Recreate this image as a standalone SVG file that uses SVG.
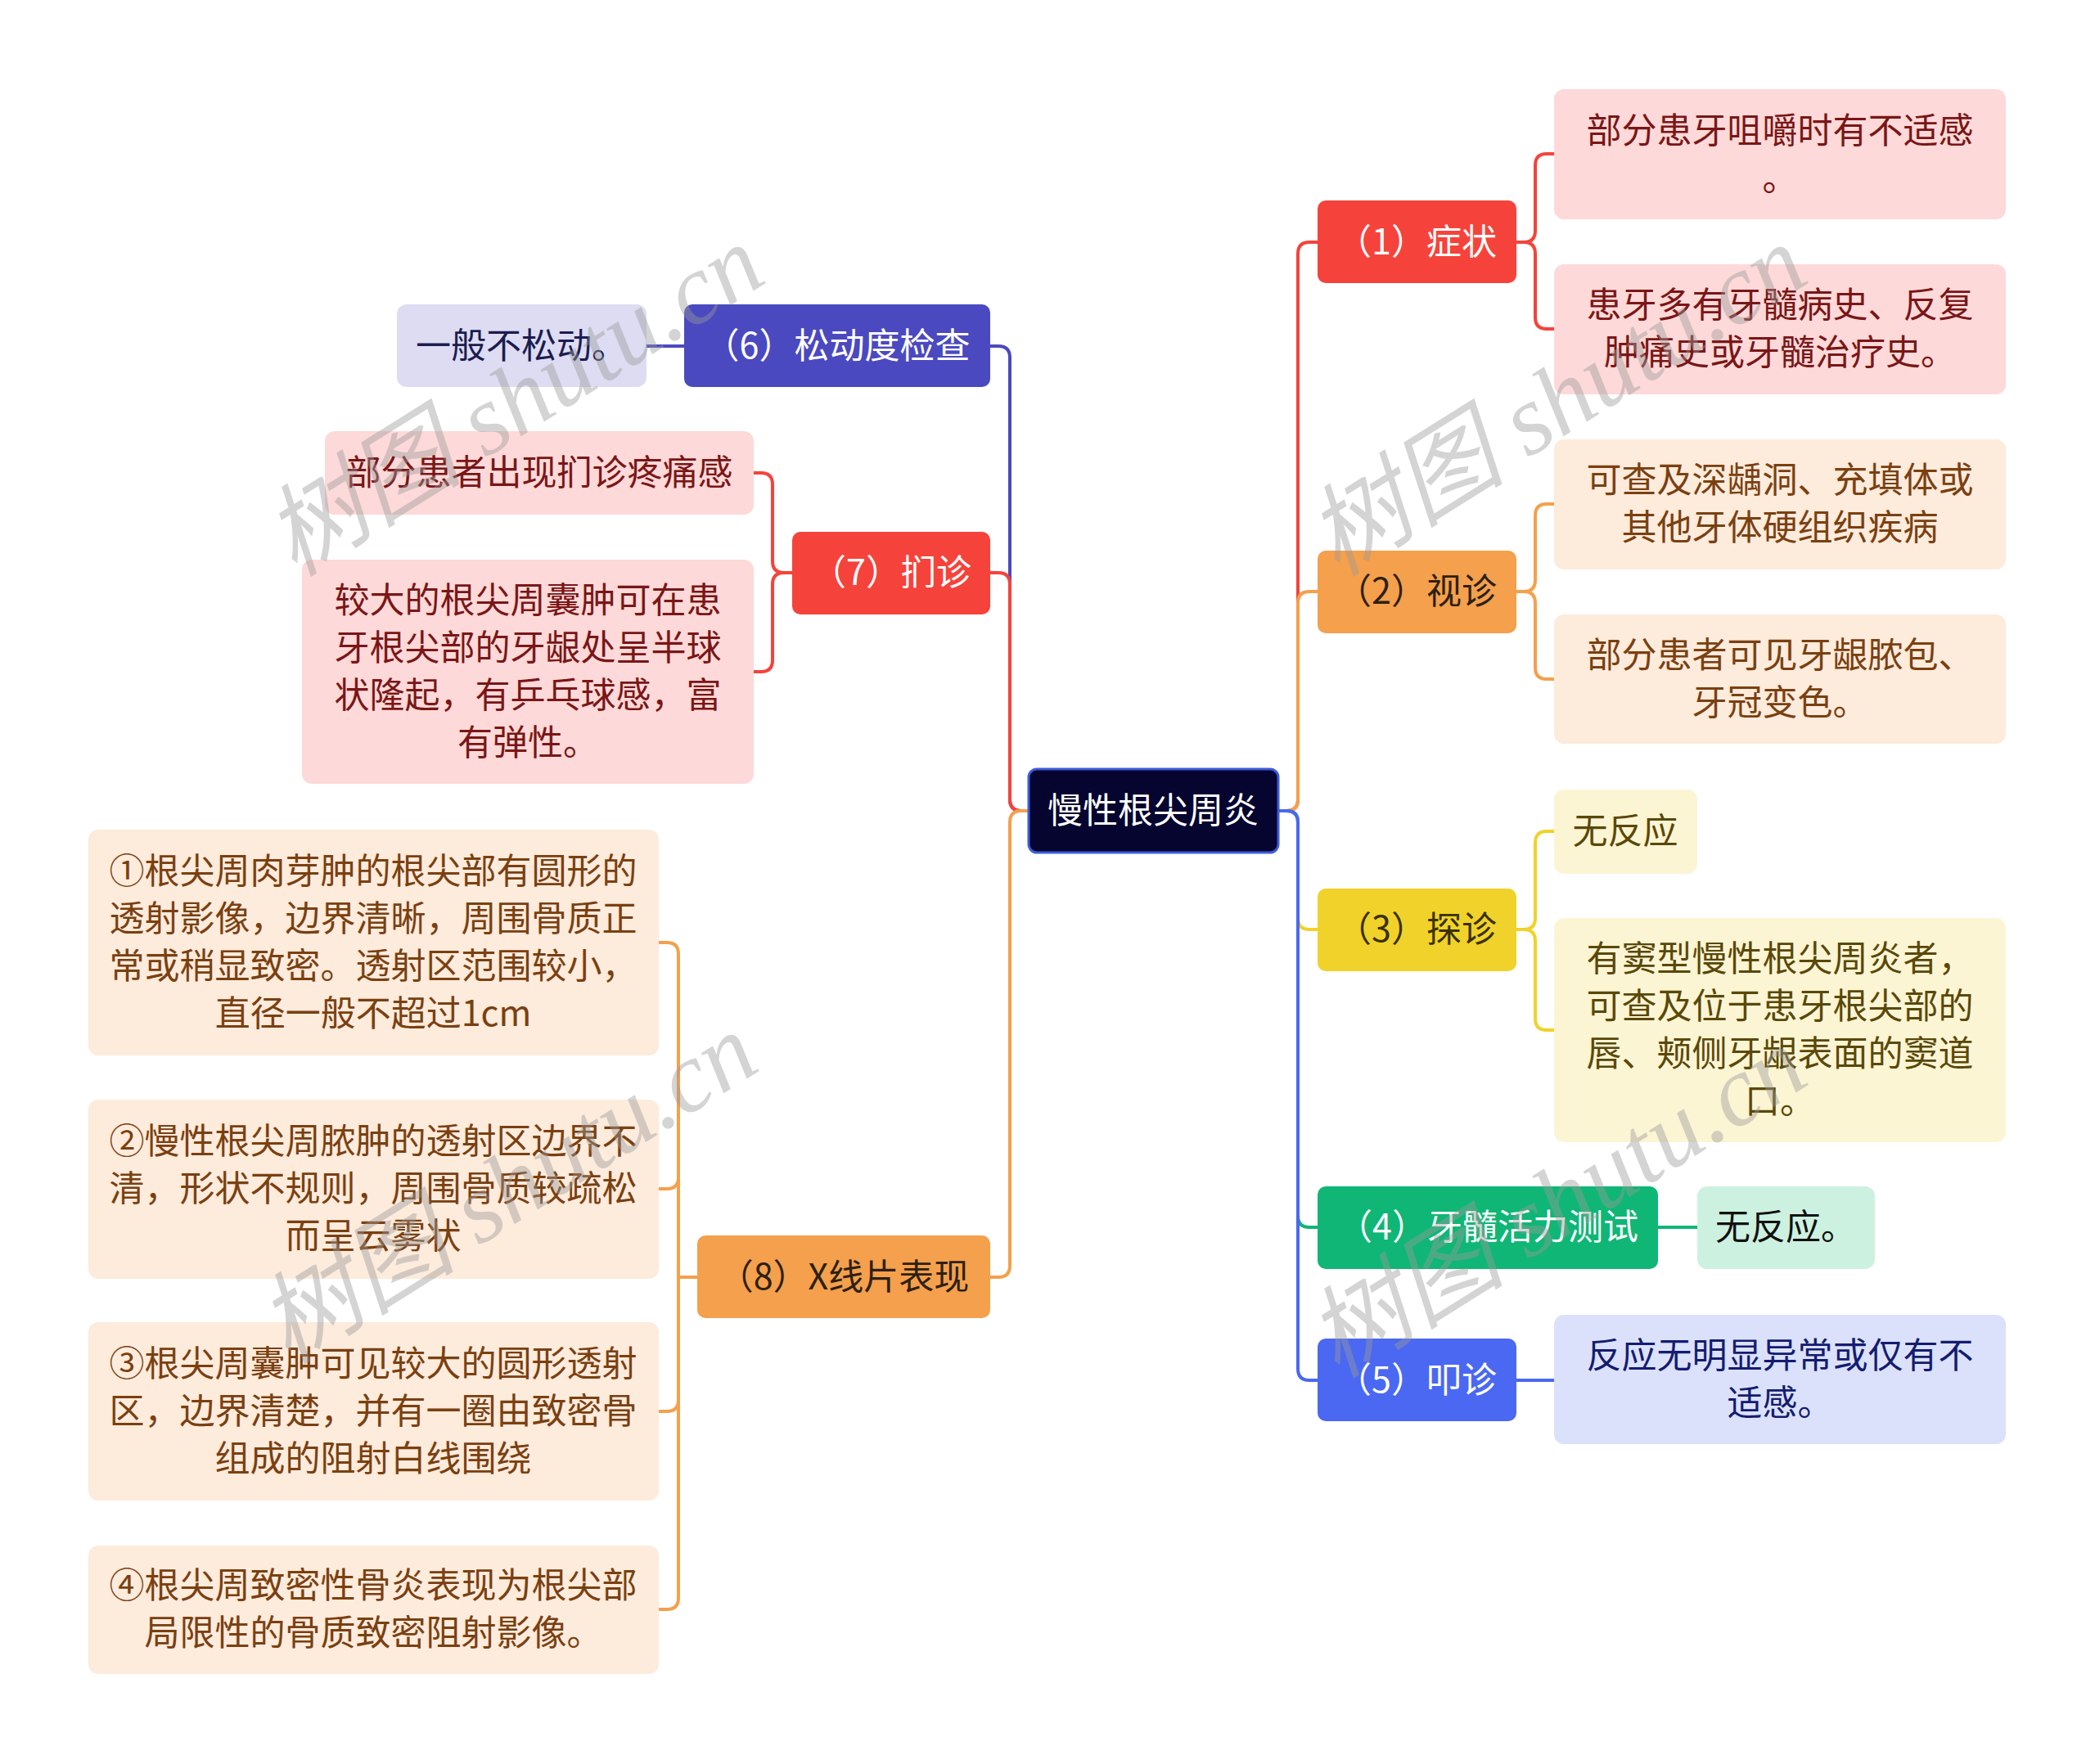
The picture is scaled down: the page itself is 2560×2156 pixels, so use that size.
<svg xmlns="http://www.w3.org/2000/svg" width="2560" height="2156" viewBox="0 0 2560 2156">
<style>
text{font-family:"Noto Sans CJK SC","Noto Sans",sans-serif;font-size:43px;text-anchor:middle}
.c{fill:none;stroke-width:4;stroke-linecap:round}
.wm{font-family:"Liberation Serif","Noto Sans CJK SC",serif;font-style:italic;font-size:122px;fill:#9a9a9a;opacity:0.42;text-anchor:start}
.w{fill:#fff}
</style>
<rect width="2560" height="2156" fill="#fff"/>
<g id="connectors">
<path class="c" stroke="#f5433b" d="M1562,991 H1572 Q1586,991 1586,977 V310 Q1586,296 1600,296 H1610"/>
<path class="c" stroke="#f4a04c" d="M1562,991 H1572 Q1586,991 1586,977 V737 Q1586,723 1600,723 H1610"/>
<path class="c" stroke="#f0d22a" d="M1562,991 H1572 Q1586,991 1586,1005 V1122 Q1586,1136 1600,1136 H1610"/>
<path class="c" stroke="#10b675" d="M1562,991 H1572 Q1586,991 1586,1005 V1486 Q1586,1500 1600,1500 H1610"/>
<path class="c" stroke="#4a68f2" d="M1562,991 H1572 Q1586,991 1586,1005 V1673 Q1586,1687 1600,1687 H1610"/>
<path class="c" stroke="#f5433b" d="M1853,296 H1862 Q1876,296 1876,282 V202 Q1876,188 1890,188 H1899 M1862,296 Q1876,296 1876,310 V388 Q1876,402 1890,402 H1899"/>
<path class="c" stroke="#f4a04c" d="M1853,723 H1862 Q1876,723 1876,709 V630 Q1876,616 1890,616 H1899 M1862,723 Q1876,723 1876,737 V816 Q1876,830 1890,830 H1899"/>
<path class="c" stroke="#f0d22a" d="M1853,1136 H1862 Q1876,1136 1876,1122 V1030 Q1876,1016 1890,1016 H1899 M1862,1136 Q1876,1136 1876,1150 V1245 Q1876,1259 1890,1259 H1899"/>
<path class="c" stroke="#10b675" d="M2026,1500 H2074"/>
<path class="c" stroke="#4a68f2" d="M1853,1687 H1899"/>
<path class="c" stroke="#4b49c0" d="M1257,991 H1248 Q1234,991 1234,977 V437 Q1234,423 1220,423 H1210"/>
<path class="c" stroke="#f5433b" d="M1257,991 H1248 Q1234,991 1234,977 V714 Q1234,700 1220,700 H1210"/>
<path class="c" stroke="#f4a04c" d="M1257,991 H1248 Q1234,991 1234,1005 V1547 Q1234,1561 1220,1561 H1210"/>
<path class="c" stroke="#4b49c0" d="M836,423 H790"/>
<path class="c" stroke="#f5433b" d="M968,700 H958 Q944,700 944,686 V592 Q944,578 930,578 H921 M958,700 Q944,700 944,714 V807 Q944,821 930,821 H921"/>
<path class="c" stroke="#f4a04c" d="M852,1561 H829 M829,1166 V1953 M829,1166 Q829,1152 815,1152 H805 M829,1439 Q829,1453 815,1453 H805 M829,1711 Q829,1725 815,1725 H805 M829,1953 Q829,1967 815,1967 H805"/>
</g>
<g id="root"><rect x="1257" y="940" width="305" height="102" rx="10" fill="#050530" stroke="#3d5bd9" stroke-width="3"/><text class="w" x="1409" y="1006">慢性根尖周炎</text></g>
<g id="n1"><rect x="1610" y="245" width="243" height="101" rx="10" fill="#f5433b"/><text class="w" x="1731" y="311">（1）症状</text></g>
<g id="n2"><rect x="1610" y="673" width="243" height="101" rx="10" fill="#f4a04c"/><text fill="#2e2012" x="1731" y="738">（2）视诊</text></g>
<g id="n3"><rect x="1610" y="1086" width="243" height="101" rx="10" fill="#f0d22a"/><text fill="#3a3000" x="1731" y="1151">（3）探诊</text></g>
<g id="n4"><rect x="1610" y="1450" width="416" height="101" rx="10" fill="#10b675"/><text class="w" x="1818" y="1515">（4）牙髓活力测试</text></g>
<g id="n5"><rect x="1610" y="1636" width="243" height="101" rx="10" fill="#4a68f2"/><text class="w" x="1731" y="1702">（5）叩诊</text></g>
<g id="n6"><rect x="836" y="372" width="374" height="101" rx="10" fill="#4b49c0"/><text class="w" x="1023" y="438">（6）松动度检查</text></g>
<g id="n7"><rect x="968" y="650" width="242" height="101" rx="10" fill="#f5433b"/><text class="w" x="1089" y="715">（7）扪诊</text></g>
<g id="n8"><rect x="852" y="1510" width="358" height="101" rx="10" fill="#f4a04c"/><text fill="#2e2012" x="1031" y="1576">（8）X线片表现</text></g>
<g id="l1a"><rect x="1899" y="109" width="552" height="159" rx="12" fill="#fdd9d9"/><text fill="#7a1616" x="2175" y="175">部分患牙咀嚼时有不适感<tspan x="2175" dy="58">。</tspan></text></g>
<g id="l1b"><rect x="1899" y="323" width="552" height="159" rx="12" fill="#fdd9d9"/><text fill="#7a1616" x="2175" y="388">患牙多有牙髓病史、反复<tspan x="2175" dy="58">肿痛史或牙髓治疗史。</tspan></text></g>
<g id="l2a"><rect x="1899" y="537" width="552" height="159" rx="12" fill="#fdebdc"/><text fill="#7a4010" x="2175" y="602">可查及深龋洞、充填体或<tspan x="2175" dy="58">其他牙体硬组织疾病</tspan></text></g>
<g id="l2b"><rect x="1899" y="751" width="552" height="158" rx="12" fill="#fdebdc"/><text fill="#7a4010" x="2175" y="816">部分患者可见牙龈脓包、<tspan x="2175" dy="58">牙冠变色。</tspan></text></g>
<g id="l3a"><rect x="1899" y="965" width="175" height="103" rx="12" fill="#fcf5d4"/><text fill="#5a4808" x="1986" y="1031">无反应</text></g>
<g id="l3b"><rect x="1899" y="1122" width="552" height="274" rx="12" fill="#fcf5d4"/><text fill="#5a4808" x="2175" y="1187">有窦型慢性根尖周炎者，<tspan x="2175" dy="58">可查及位于患牙根尖部的</tspan><tspan x="2175" dy="58">唇、颊侧牙龈表面的窦道</tspan><tspan x="2175" dy="58">口。</tspan></text></g>
<g id="l4"><rect x="2074" y="1450" width="217" height="101" rx="12" fill="#cdf1e0"/><text fill="#111" x="2182" y="1515">无反应。</text></g>
<g id="l5"><rect x="1899" y="1607" width="552" height="158" rx="12" fill="#dbe1fa"/><text fill="#141c70" x="2175" y="1672">反应无明显异常或仅有不<tspan x="2175" dy="58">适感。</tspan></text></g>
<g id="l6a"><rect x="485" y="372" width="305" height="101" rx="12" fill="#dddcf2"/><text fill="#1c1c50" x="637" y="438">一般不松动。</text></g>
<g id="l7a"><rect x="397" y="527" width="524" height="102" rx="12" fill="#fdd9d9"/><text fill="#7a1616" x="659" y="593">部分患者出现扪诊疼痛感</text></g>
<g id="l7b"><rect x="369" y="684" width="552" height="274" rx="12" fill="#fdd9d9"/><text fill="#7a1616" x="645" y="749">较大的根尖周囊肿可在患<tspan x="645" dy="58">牙根尖部的牙龈处呈半球</tspan><tspan x="645" dy="58">状隆起，有乒乓球感，富</tspan><tspan x="645" dy="58">有弹性。</tspan></text></g>
<g id="l8a"><rect x="108" y="1014" width="697" height="276" rx="12" fill="#fdebdc"/><text fill="#7a4010" x="456" y="1080">①根尖周肉芽肿的根尖部有圆形的<tspan x="456" dy="58">透射影像，边界清晰，周围骨质正</tspan><tspan x="456" dy="58">常或稍显致密。透射区范围较小，</tspan><tspan x="456" dy="58">直径一般不超过1cm</tspan></text></g>
<g id="l8b"><rect x="108" y="1344" width="697" height="219" rx="12" fill="#fdebdc"/><text fill="#7a4010" x="456" y="1410">②慢性根尖周脓肿的透射区边界不<tspan x="456" dy="58">清，形状不规则，周围骨质较疏松</tspan><tspan x="456" dy="58">而呈云雾状</tspan></text></g>
<g id="l8c"><rect x="108" y="1616" width="697" height="218" rx="12" fill="#fdebdc"/><text fill="#7a4010" x="456" y="1682">③根尖周囊肿可见较大的圆形透射<tspan x="456" dy="58">区，边界清楚，并有一圈由致密骨</tspan><tspan x="456" dy="58">组成的阻射白线围绕</tspan></text></g>
<g id="l8d"><rect x="108" y="1889" width="697" height="157" rx="12" fill="#fdebdc"/><text fill="#7a4010" x="456" y="1953">④根尖周致密性骨炎表现为根尖部<tspan x="456" dy="58">局限性的骨质致密阻射影像。</tspan></text></g>
<g id="watermark">
<text class="wm" transform="translate(360,706) rotate(-32)">树图 shutu.cn</text>
<text class="wm" transform="translate(1634,706) rotate(-32)">树图 shutu.cn</text>
<text class="wm" transform="translate(352,1669) rotate(-32)">树图 shutu.cn</text>
<text class="wm" transform="translate(1634,1686) rotate(-32)">树图 shutu.cn</text>
</g>
</svg>
